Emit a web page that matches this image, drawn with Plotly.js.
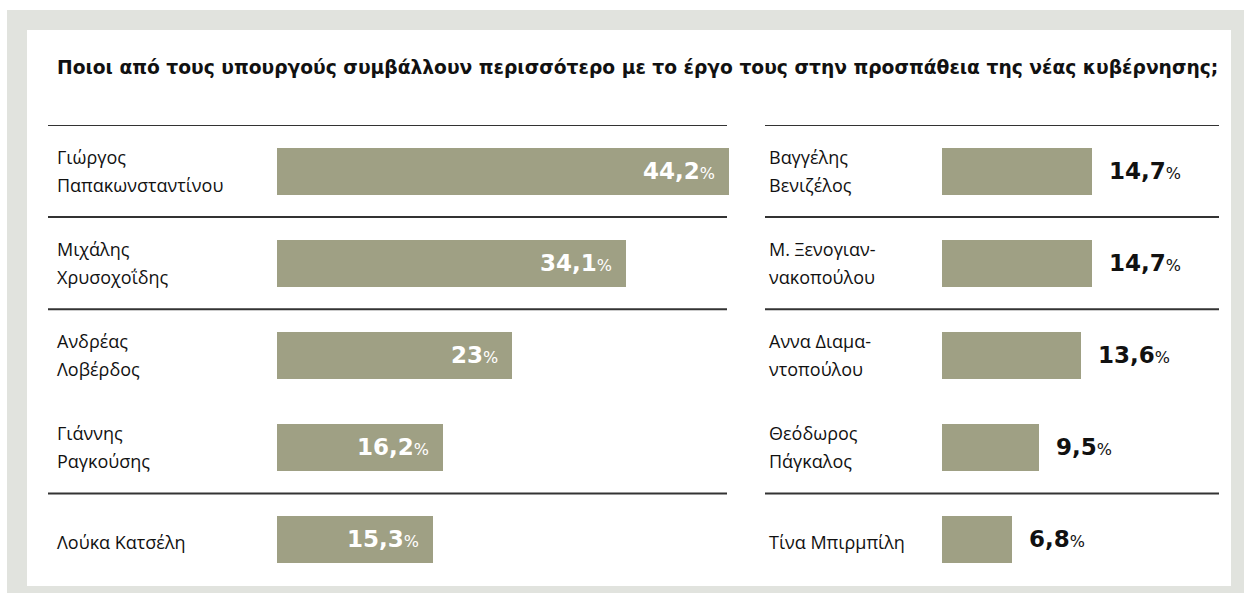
<!DOCTYPE html>
<html>
<head>
<meta charset="utf-8">
<script src="https://cdn.plot.ly/plotly-3.0.1.min.js"></script>
<style>html,body{margin:0;padding:0;background:#fff;}#chart{width:1244px;height:593px;}</style>
</head>
<body>
<div id="chart"></div>
<script>
const titleText = "Ποιοι από τους υπουργούς συμβάλλουν περισσότερο με το έργο τους στην προσπάθεια της νέας κυβέρνησης;";
const leftNames = ["Γιώργος\nΠαπακωνσταντίνου", "Μιχάλης\nΧρυσοχοΐδης", "Ανδρέας\nΛοβέρδος", "Γιάννης\nΡαγκούσης", "Λούκα Κατσέλη"];
const leftValues = [44.2, 34.1, 23, 16.2, 15.3];
const rightNames = ["Βαγγέλης\nΒενιζέλος", "Μ. Ξενογιαν-\nνακοπούλου", "Αννα Διαμα-\nντοπούλου", "Θεόδωρος\nΠάγκαλος", "Τίνα Μπιρμπίλη"];
const rightValues = [14.7, 14.7, 13.6, 9.5, 6.8];
// rows after which a separator rule is drawn (-1 = top rule)
const separatorsAfter = [-1, 0, 1, 3];

const W = 1244, H = 593;
const px = v => v / W;
const py = v => 1 - v / H;
const barColor = "#9fa084";
const nameFont = {family: "Open Sans, Noto Sans, sans-serif", size: 18, color: "#111"};
const valFamily = "DejaVu Sans, Liberation Sans, sans-serif";

function fmt(v) {
  return Number.isInteger(v) ? String(v) : String(v).replace('.', ',');
}

const leftIdx = leftNames.map((_, i) => i);
const rightIdx = rightNames.map((_, i) => i);

const traces = [
  {type: 'bar', orientation: 'h', x: leftValues, y: leftIdx, xaxis: 'x', yaxis: 'y',
   marker: {color: barColor}, width: 0.51, hoverinfo: 'skip'},
  {type: 'bar', orientation: 'h', x: rightValues, y: rightIdx, xaxis: 'x2', yaxis: 'y2',
   marker: {color: barColor}, width: 0.51, hoverinfo: 'skip'}
];

const annotations = [];
annotations.push({text: "<b>" + titleText + "</b>", xref: 'paper', yref: 'paper', x: px(55), y: py(67),
  xanchor: 'left', yanchor: 'middle', showarrow: false,
  font: {family: "DejaVu Sans, sans-serif", size: 18.7, color: "#111"}});

function addNames(names, xPaper, yref) {
  names.forEach((n, i) => {
    const parts = n.split('\n');
    if (parts.length === 1) {
      annotations.push({text: parts[0], xref: 'paper', yref: yref, x: xPaper, y: i, xanchor: 'left',
        yanchor: 'middle', showarrow: false, font: nameFont, yshift: -3});
    } else {
      parts.forEach((p, k) => {
        annotations.push({text: p, xref: 'paper', yref: yref, x: xPaper, y: i, xanchor: 'left',
          yanchor: 'middle', showarrow: false, font: nameFont, yshift: k === 0 ? 14 : -14});
      });
    }
  });
}
addNames(leftNames, px(55), 'y');
addNames(rightNames, px(767), 'y2');

leftValues.forEach((v, i) => {
  annotations.push({text: "<b>" + fmt(v) + "</b><span style='font-size:16px'>%</span>", xref: 'x', yref: 'y',
    x: v, y: i, xanchor: 'right', yanchor: 'middle', xshift: -12, showarrow: false,
    font: {family: valFamily, size: 23, color: "#ffffff"}});
});
rightValues.forEach((v, i) => {
  annotations.push({text: "<b>" + fmt(v) + "</b><span style='font-size:16px'>%</span>", xref: 'x2', yref: 'y2',
    x: v, y: i, xanchor: 'left', yanchor: 'middle', xshift: 15, showarrow: false,
    font: {family: valFamily, size: 23, color: "#111111"}});
});

const shapes = [
  {type: 'rect', xref: 'paper', yref: 'paper', x0: px(7), x1: 1, y0: 0, y1: py(10), fillcolor: '#e1e3de', line: {width: 0}, layer: 'below'},
  {type: 'rect', xref: 'paper', yref: 'paper', x0: px(27), x1: px(1231), y0: py(586), y1: py(30), fillcolor: '#ffffff', line: {width: 0}, layer: 'below'}
];
separatorsAfter.forEach(r => {
  shapes.push({type: 'line', xref: 'paper', yref: 'y', x0: px(48), x1: px(727), y0: r + 0.5, y1: r + 0.5, line: {color: '#333', width: 2}});
  shapes.push({type: 'line', xref: 'paper', yref: 'y2', x0: px(765), x1: px(1219), y0: r + 0.5, y1: r + 0.5, line: {color: '#333', width: 2}});
});

const yDomain = [py(585.5), py(125)];
const layout = {
  width: W, height: H, margin: {l: 0, r: 0, t: 0, b: 0},
  paper_bgcolor: '#ffffff', plot_bgcolor: 'rgba(0,0,0,0)',
  showlegend: false, bargap: 0,
  xaxis: {domain: [px(277), px(729)], range: [0, 44.2], visible: false, fixedrange: true},
  yaxis: {domain: yDomain, range: [4.5, -0.5], visible: false, fixedrange: true},
  xaxis2: {domain: [px(942), px(1218)], range: [0, 27], visible: false, anchor: 'y2', fixedrange: true},
  yaxis2: {domain: yDomain, range: [4.5, -0.5], visible: false, anchor: 'x2', fixedrange: true},
  annotations: annotations, shapes: shapes
};

Plotly.newPlot('chart', traces, layout, {displayModeBar: false, staticPlot: true});
</script>
</body>
</html>
